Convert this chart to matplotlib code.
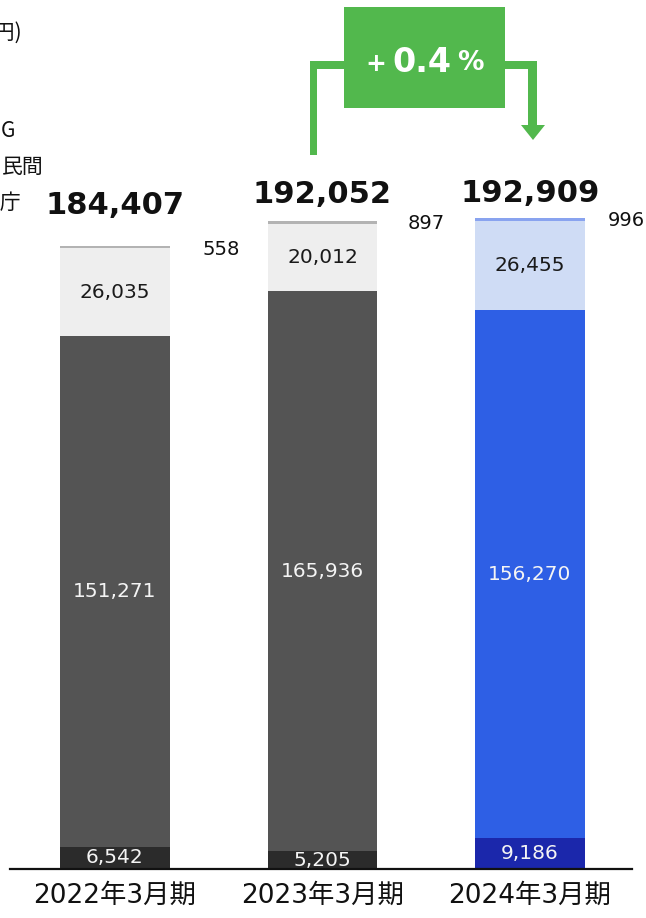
import numpy as np
import matplotlib
matplotlib.use('Agg')
import matplotlib.pyplot as plt
from matplotlib.patches import Polygon

plt.rcParams['font.family'] = ['DejaVu Sans', 'Noto Sans CJK JP']

# data (百万円)
categories = ['2022年3月期', '2023年3月期', '2024年3月期']
bottom_vals = [6542, 5205, 9186]
main_vals = [151271, 165936, 156270]
light_vals = [26035, 20012, 26455]
top_vals = [558, 897, 996]
totals = [184407, 192052, 192909]
change_label = '0.4'

# colours per bar: bottom, main, light, top
gray_cols = ['#2b2b2b', '#545454', '#eeeeee', '#b3b3b3']
blue_cols = ['#1b27ab', '#2e5fe5', '#cfdcf5', '#89a3ef']
bar_cols = [gray_cols, gray_cols, blue_cols]
green = '#52b84d'

W, H = 646, 918
fig = plt.figure(figsize=(W / 100, H / 100), dpi=100)
ax = fig.add_axes([10 / W, 49 / H, 622 / W, 869 / H])

x = np.arange(len(categories))
width = 0.53
layers = [bottom_vals, main_vals, light_vals, top_vals]
base = np.zeros(len(categories))
for k, vals in enumerate(layers):
    cols = [bar_cols[i][k] for i in range(len(categories))]
    ax.bar(x, vals, width, bottom=base, color=cols, linewidth=0)
    for i, v in enumerate(vals):
        ymid = base[i] + v / 2
        if k == 0 or k == 1:
            ax.text(x[i], ymid, f'{v:,}', ha='center', va='center',
                    fontsize=14.5, color='#f4f4f4')
        elif k == 2:
            ax.text(x[i], ymid, f'{v:,}', ha='center', va='center',
                    fontsize=14.5, color='#1a1a1a')
    base = base + np.array(vals)

# small top values to the right of each bar
small_dx = [106, 104, 96]
for i, v in enumerate(top_vals):
    ax.annotate(f'{v:,}', xy=(x[i], base[i]), xytext=(small_dx[i] * 0.72, -3 * 0.72),
                textcoords='offset points', ha='center', va='center',
                fontsize=14, color='#111111')

# totals
tot_dy = [41, 26, 24]
for i, t in enumerate(totals):
    ax.annotate(f'{t:,}', xy=(x[i], base[i]), xytext=(0, tot_dy[i] * 0.72),
                textcoords='offset points', ha='center', va='center',
                fontsize=22, fontweight='bold', color='#111111')

ax.set_xlim(-0.506, 2.4916)
ax.set_ylim(0, 869 / 3.376 * 1000)
for s in ['top', 'right', 'left']:
    ax.spines[s].set_visible(False)
ax.spines['bottom'].set_linewidth(1.6)
ax.spines['bottom'].set_color('#111111')
ax.set_yticks([])
ax.set_xticks(x)
ax.set_xticklabels(categories, fontsize=19, color='#111111')
ax.tick_params(axis='x', length=0, pad=10)


def px(xp, yp):
    return (xp / W, 1 - yp / H)


def rect(x0, y0, x1, y1):
    fig.patches.append(Polygon([px(x0, y0), px(x1, y0), px(x1, y1), px(x0, y1)],
                               closed=True, transform=fig.transFigure,
                               facecolor=green, edgecolor='none'))


# growth arrow
rect(344, 7, 505, 108)
rect(310, 61, 317, 155)
rect(310, 61, 344, 69)
rect(505, 61, 537, 69)
rect(528, 61, 537, 126)
fig.patches.append(Polygon([px(521, 125), px(545, 125), px(533, 140)], closed=True,
                           transform=fig.transFigure, facecolor=green, edgecolor='none'))
fig.text(*px(376, 64), '+', ha='center', va='center', fontsize=18,
         fontweight='bold', color='white')
fig.text(*px(422, 62), change_label, ha='center', va='center', fontsize=24,
         fontweight='bold', color='white')
fig.text(*px(470, 63), '%', ha='center', va='center', fontsize=19,
         fontweight='bold', color='white')

# cut-off unit and legend labels at the left edge
cjk = ['Noto Sans CJK JP', 'DejaVu Sans']
fig.text(*px(22, 33), '(百万円)', ha='right', va='center', fontsize=15,
         family=cjk, color='#111111')
fig.text(*px(15, 131), 'G', ha='right', va='center', fontsize=15,
         family=cjk, color='#111111')
fig.text(*px(44, 167), '民間', ha='right', va='center', fontsize=15,
         family=cjk, color='#111111')
fig.text(*px(21, 203), '官公庁', ha='right', va='center', fontsize=15,
         family=cjk, color='#111111')

fig.savefig('out.png', dpi=100)
